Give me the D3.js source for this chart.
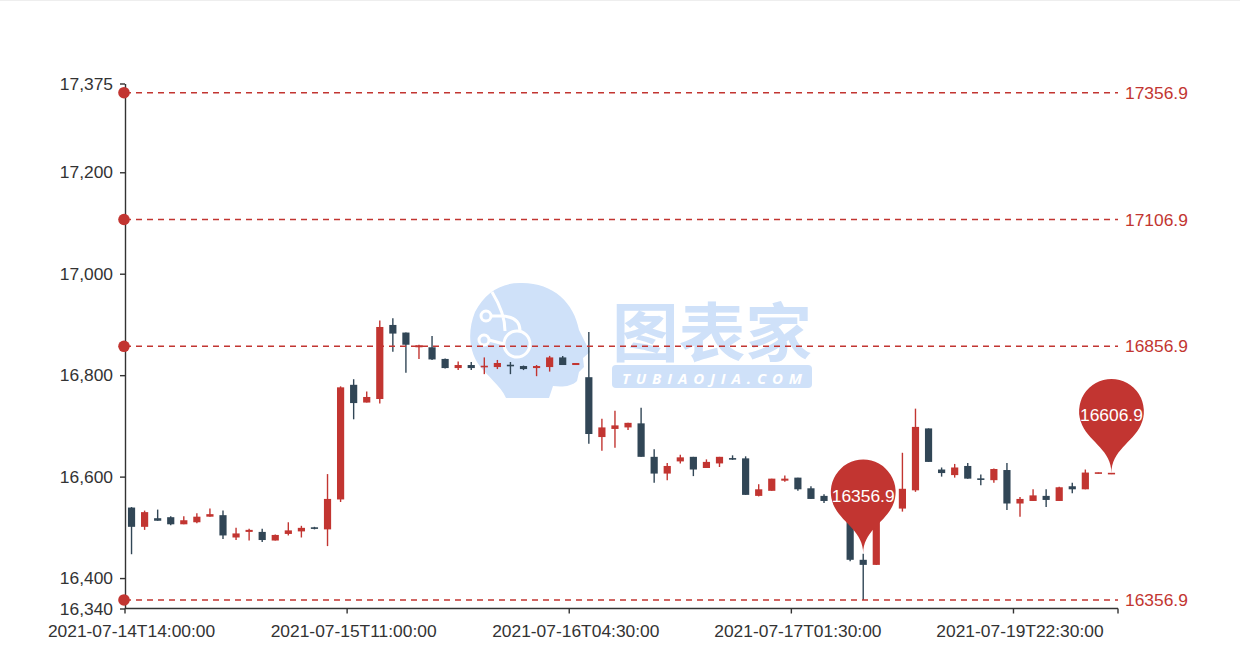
<!DOCTYPE html>
<html><head><meta charset="utf-8">
<script src="https://cdn.jsdelivr.net/npm/d3@7"></script>
<style>html,body{margin:0;padding:0;background:#fff;} svg{display:block;font-family:"Liberation Sans",Arial,sans-serif;}</style>
</head><body><svg id="chart" width="1240" height="659"></svg>
<script>
const categories = [
"2021-07-14T14:00:00","2021-07-14T15:00:00","2021-07-14T16:00:00","2021-07-14T17:00:00","2021-07-14T18:00:00",
"2021-07-14T19:00:00","2021-07-14T20:00:00","2021-07-14T21:00:00","2021-07-14T22:00:00","2021-07-14T23:00:00",
"2021-07-15T00:00:00","2021-07-15T01:00:00","2021-07-15T02:00:00","2021-07-15T03:00:00","2021-07-15T08:00:00",
"2021-07-15T09:00:00","2021-07-15T10:00:00","2021-07-15T11:00:00","2021-07-15T12:00:00","2021-07-15T13:00:00",
"2021-07-15T14:00:00","2021-07-15T15:00:00","2021-07-15T16:00:00","2021-07-15T17:00:00","2021-07-15T18:00:00",
"2021-07-15T19:00:00","2021-07-15T20:00:00","2021-07-15T21:00:00","2021-07-15T22:00:00","2021-07-15T23:00:00",
"2021-07-16T00:00:00","2021-07-16T01:00:00","2021-07-16T02:00:00","2021-07-16T03:00:00","2021-07-16T04:30:00",
"2021-07-16T05:30:00","2021-07-16T06:30:00","2021-07-16T07:30:00","2021-07-16T08:30:00","2021-07-16T09:30:00",
"2021-07-16T10:30:00","2021-07-16T11:30:00","2021-07-16T12:30:00","2021-07-16T13:30:00","2021-07-16T14:30:00",
"2021-07-16T15:30:00","2021-07-16T16:30:00","2021-07-16T17:30:00","2021-07-16T18:30:00","2021-07-16T19:30:00",
"2021-07-16T20:30:00","2021-07-17T01:30:00","2021-07-17T02:30:00","2021-07-17T03:30:00","2021-07-17T04:30:00",
"2021-07-17T05:30:00","2021-07-19T10:30:00","2021-07-19T11:30:00","2021-07-19T12:30:00","2021-07-19T13:30:00",
"2021-07-19T14:30:00","2021-07-19T15:30:00","2021-07-19T16:30:00","2021-07-19T17:30:00","2021-07-19T18:30:00",
"2021-07-19T19:30:00","2021-07-19T20:30:00","2021-07-19T21:30:00","2021-07-19T22:30:00","2021-07-19T23:30:00",
"2021-07-20T00:30:00","2021-07-20T01:30:00","2021-07-20T02:30:00","2021-07-20T03:30:00","2021-07-20T04:30:00",
"2021-07-20T05:30:00"];

const openValues = [16539,16501,16518,16520,16506,16510,16521,16524,16480,16491,16491,16474,16487,16492,16500,16496,16555,16781,16746,16753,
16899,16884,16855,16855,16832,16814,16820,16816,16816,16820,16818,16814,16816,16835,16820,16796,16678,16694,16697,16705,
16639,16606,16630,16639,16617,16626,16636,16636,16562,16572,16592,16598,16577,16562,16560,16545,16436,16426,16548,16537,
16573,16695,16614,16603,16621,16596,16593,16613,16547,16552,16562,16552,16581,16575,16606,16605];
const closeValues = [16501,16530,16513,16506,16514,16521,16526,16484,16488,16495,16475,16485,16494,16499,16497,16556,16776,16745,16757,16895,
16882,16860,16859,16831,16814,16820,16814,16818,16824,16818,16812,16818,16835,16820,16824,16684,16697,16701,16706,16639,
16606,16621,16638,16614,16629,16639,16634,16564,16575,16596,16596,16575,16556,16552,16545,16436,16426,16530,16570,16576,
16698,16629,16607,16618,16596,16594,16615,16547,16556,16563,16554,16579,16575,16608,16608,16606.9];
const lowValues = [16447,16495,16513,16504,16506,16508,16521,16477,16475,16474,16471,16474,16484,16480,16496,16463,16550,16713,16746,16744,
16846,16805,16832,16830,16813,16810,16810,16802,16812,16802,16810,16798,16807,16820,16820,16665,16651,16657,16692,16639,
16588,16593,16626,16601,16617,16619,16633,16564,16561,16572,16590,16572,16556,16548,16540,16433,16356.9,16426,16546,16531,
16570,16629,16600,16598,16596,16583,16588,16534,16521,16552,16540,16552,16567,16575,16606,16605];
const highValues = [16540,16533,16535,16522,16522,16528,16537,16533,16499,16497,16497,16486,16510,16503,16501,16605,16778,16792,16768,16908,
16912,16884,16860,16877,16833,16827,16826,16835,16830,16826,16819,16820,16838,16838,16824,16885,16714,16730,16706,16736,
16654,16627,16643,16639,16634,16639,16642,16640,16585,16596,16602,16598,16581,16565,16562,16548,16448,16532,16578,16647,
16734,16695,16618,16625,16627,16604,16616,16627,16560,16575,16575,16580,16588,16614,16608,16606.9];

const yTickValues = [16340, 16400, 16600, 16800, 17000, 17200, 17375];
const xTickLabels = ["2021-07-14T14:00:00","2021-07-15T11:00:00","2021-07-16T04:30:00","2021-07-17T01:30:00","2021-07-19T22:30:00"];
const markLineValues = [17356.9, 17106.9, 16856.9, 16356.9];
const markPointCats = ["2021-07-19T10:30:00", "2021-07-20T05:30:00"];
const markPointAt = [16448, 16606.9];
const markPointLabels = ["16356.9", "16606.9"];

(function () {
const RED = "#c23531", DARK = "#314656", AXIS = "#333";
const FS = 17.4;
const svg = d3.select("#chart");
const pL = 125, pR = 1118, pT = 83.5, pB = 608.5;

const x = d3.scaleBand().domain(categories).range([pL, pR]).padding(0);
const y = d3.scaleLinear().domain([16340, 17375]).range([pB, pT]);
const bw = x.bandwidth();

svg.append("line").attr("x1", 0).attr("x2", 1240).attr("y1", 0.5).attr("y2", 0.5).attr("stroke", "#eeeeee");

// watermark
const wm = svg.append("g").attr("fill", "#cfe1f9");
wm.append("path").attr("d",
 "M520,283 C552,282 574,302 579,330 L590,352 L583,358 L584,367 L579,372 L577,381 C571,387 561,387 553,386 L549,398 L506,398 C501,386 487,376 479,365 C468,349 468,330 475,312 C485,293 500,283 520,283 Z");
const wmc = svg.append("g").attr("fill", "none").attr("stroke", "#fff").attr("stroke-width", 3);
wmc.append("circle").attr("cx", 517).attr("cy", 344).attr("r", 13);
wmc.append("circle").attr("cx", 486).attr("cy", 316).attr("r", 5);
wmc.append("circle").attr("cx", 484).attr("cy", 340).attr("r", 5);
wmc.append("path").attr("d", "M491,316 L500,316 C515,316 520,322 520,331 M489,340 L504,344 M492,292 C500,305 505,320 505,331");
wm.append("text").attr("x", 712).attr("y", 356).attr("text-anchor", "middle")
  .attr("font-family", "'Liberation Sans','Noto Sans CJK SC'").attr("font-weight", "bold").attr("font-size", 64)
  .attr("textLength", 200).attr("lengthAdjust", "spacingAndGlyphs").text("图表家");
wm.append("rect").attr("x", 612).attr("y", 365).attr("width", 200).attr("height", 23).attr("rx", 4);
svg.append("text").attr("x", 712).attr("y", 384).attr("text-anchor", "middle").attr("fill", "#fff")
  .attr("font-family", "'Open Sans'").attr("font-weight", "bold").attr("font-style", "italic").attr("font-size", 15)
  .attr("textLength", 180).attr("lengthAdjust", "spacing").text("TUBIAOJIA.COM");

// y axis
const yAxis = svg.append("g").attr("transform", `translate(${pL},0)`)
  .call(d3.axisLeft(y).tickValues(yTickValues).tickSize(5).tickSizeOuter(0).tickPadding(7).tickFormat(d3.format(",")));
yAxis.select(".domain").attr("stroke", AXIS).attr("stroke-width", 1.4);
yAxis.selectAll(".tick line").attr("stroke", AXIS).attr("stroke-width", 1.4);
yAxis.selectAll(".tick text").attr("fill", AXIS).attr("font-size", FS).attr("font-family", "'Liberation Sans',Arial,sans-serif");

// x axis
const xAxis = svg.append("g");
xAxis.append("line").attr("x1", pL).attr("x2", pR).attr("y1", pB).attr("y2", pB)
  .attr("stroke", AXIS).attr("stroke-width", 1.4);
const tickXs = xTickLabels.map(c => x(c)).concat([pR]);
xAxis.selectAll("line.tk").data(tickXs).join("line").attr("class", "tk")
  .attr("x1", d => d).attr("x2", d => d).attr("y1", pB).attr("y2", pB + 5)
  .attr("stroke", AXIS).attr("stroke-width", 1.4);
xAxis.selectAll("text").data(xTickLabels).join("text")
  .attr("x", d => x(d) + bw / 2).attr("y", pB + 28.5).attr("text-anchor", "middle")
  .attr("fill", AXIS).attr("font-size", FS).text(d => d);

// candles
const candles = categories.map((c, i) => ({c, o: openValues[i], cl: closeValues[i], l: lowValues[i], h: highValues[i]}));
const cg = svg.append("g");
const bodyW = bw * 0.55;
cg.selectAll("line.wick").data(candles).join("line").attr("class", "wick")
  .attr("x1", d => x(d.c) + bw / 2).attr("x2", d => x(d.c) + bw / 2)
  .attr("y1", d => y(d.h)).attr("y2", d => y(d.l))
  .attr("stroke", d => d.cl >= d.o ? RED : DARK).attr("stroke-width", 1.4);
cg.selectAll("rect.body").data(candles).join("rect").attr("class", "body")
  .attr("x", d => x(d.c) + bw / 2 - bodyW / 2).attr("width", bodyW)
  .attr("y", d => { const t = y(Math.max(d.o, d.cl)), b = y(Math.min(d.o, d.cl)); return b - t < 1.6 ? (t + b) / 2 - 0.8 : t; })
  .attr("height", d => Math.max(1.6, y(Math.min(d.o, d.cl)) - y(Math.max(d.o, d.cl))))
  .attr("fill", d => d.cl >= d.o ? RED : DARK);

// mark lines
const ml = svg.append("g");
ml.selectAll("line").data(markLineValues).join("line")
  .attr("x1", pL).attr("x2", pR).attr("y1", d => y(d)).attr("y2", d => y(d))
  .attr("stroke", RED).attr("stroke-width", 1.4).attr("stroke-dasharray", "6,5");
ml.selectAll("circle").data(markLineValues).join("circle")
  .attr("cx", pL - 1).attr("cy", d => y(d)).attr("r", 5.8).attr("fill", RED);
ml.selectAll("text").data(markLineValues).join("text")
  .attr("x", pR + 7).attr("y", d => y(d)).attr("dy", "0.35em")
  .attr("fill", RED).attr("font-size", FS).text(d => d3.format(".1f")(d));

// mark points (pins)
function pinPath(tx, ty, S) {
  const w = S * 0.6, h = S, r = w / 2;
  const dy = r * r / (h - r);
  const cy = ty - h + r + dy;
  const ang = Math.asin(dy / r);
  const dx = Math.cos(ang) * r;
  const tanX = Math.sin(ang), tanY = Math.cos(ang);
  const cp = r * 0.6, cp2 = r * 0.7;
  const p = d3.path();
  p.moveTo(tx - dx, cy + dy);
  p.arc(tx, cy, r, Math.PI - ang, Math.PI * 2 + ang);
  p.bezierCurveTo(tx + dx - tanX * cp, cy + dy + tanY * cp, tx, ty - cp2, tx, ty);
  p.bezierCurveTo(tx, ty - cp2, tx - dx + tanX * cp, cy + dy + tanY * cp, tx - dx, cy + dy);
  p.closePath();
  return p.toString();
}
const mpData = markPointCats.map((c, i) => ({c, v: markPointAt[i], label: markPointLabels[i]}));
const mp = svg.append("g");
mp.selectAll("path").data(mpData).join("path")
  .attr("d", d => pinPath(x(d.c) + bw / 2, y(d.v), 108)).attr("fill", RED);
mp.selectAll("text").data(mpData).join("text")
  .attr("x", d => x(d.c) + bw / 2).attr("y", d => y(d.v) - 58).attr("dy", "0.35em")
  .attr("text-anchor", "middle").attr("fill", "#fff").attr("font-size", FS).text(d => d.label);
})();
</script></body></html>
